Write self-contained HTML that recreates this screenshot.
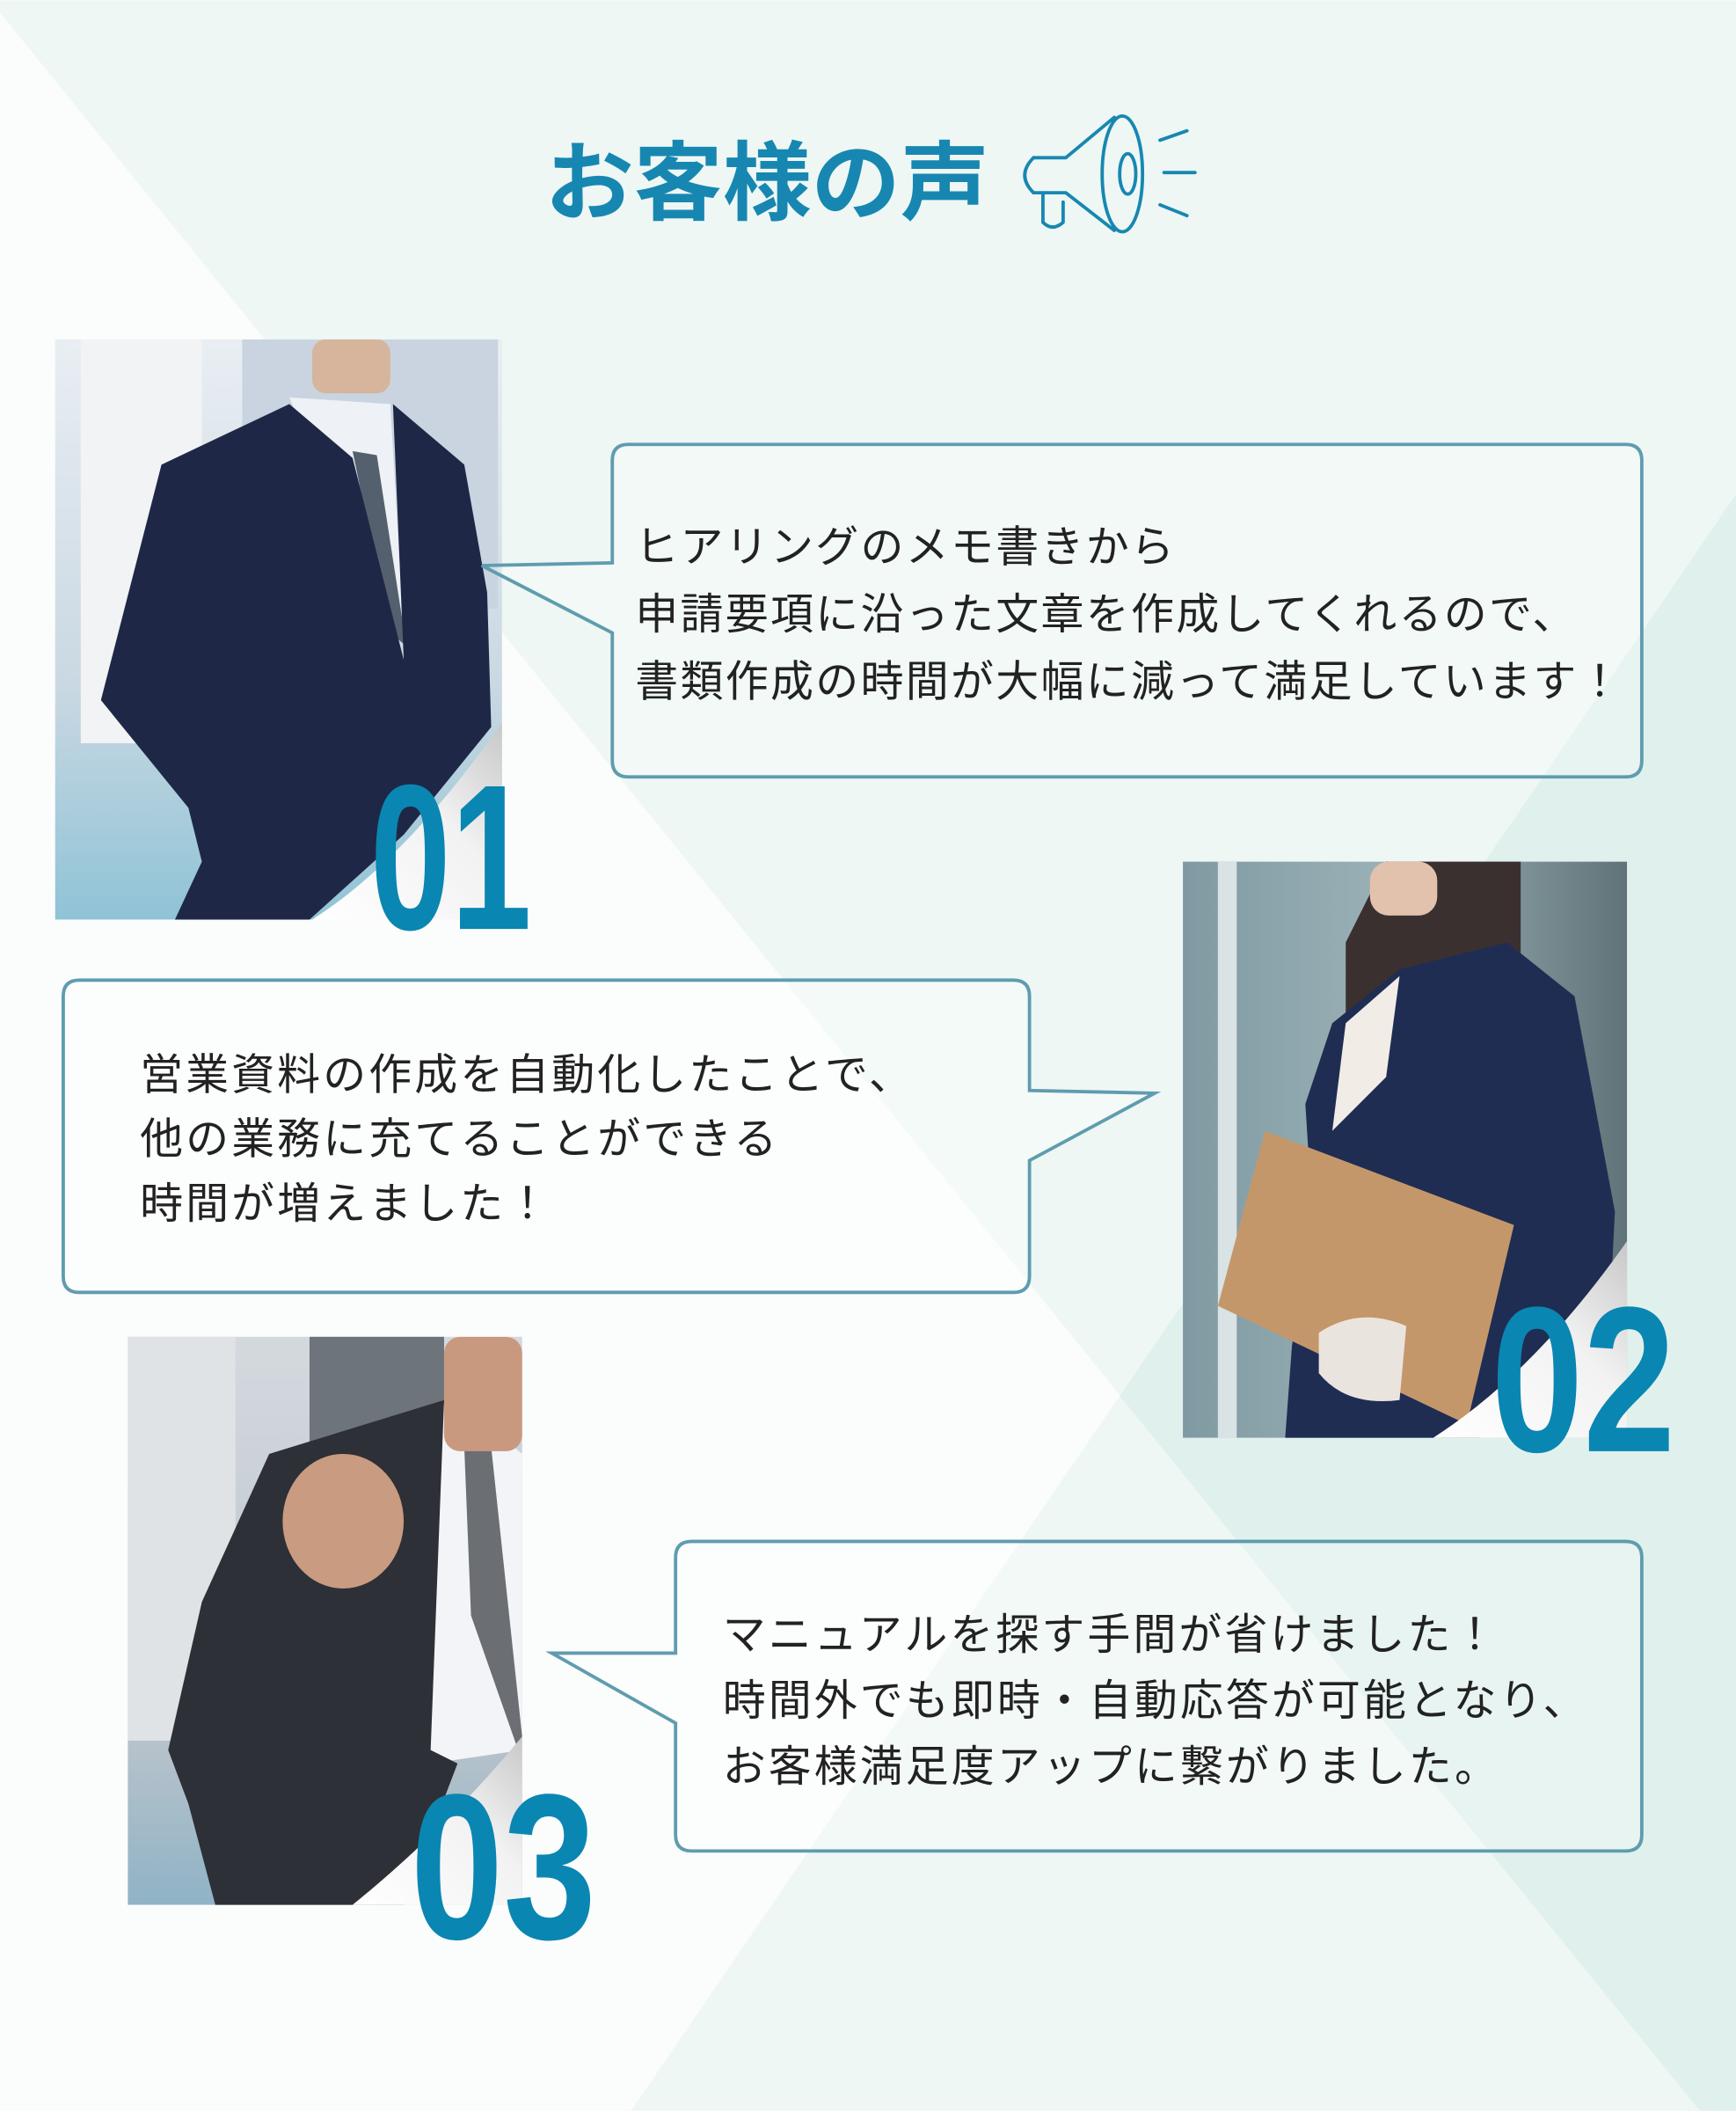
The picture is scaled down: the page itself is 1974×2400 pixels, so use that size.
<!DOCTYPE html>
<html><head><meta charset="utf-8"><style>
html,body{margin:0;padding:0;width:1974px;height:2400px;overflow:hidden;background:#fff}
svg{display:block}
text{font-family:"Liberation Sans","Noto Sans CJK JP",sans-serif}
</style></head><body>
<svg width="1974" height="2400" viewBox="0 0 1290 1568" xmlns="http://www.w3.org/2000/svg">
<defs>
<linearGradient id="p1" x1="0" y1="0" x2="0" y2="1"><stop offset="0" stop-color="#e9eef3"/><stop offset="0.6" stop-color="#c9d8e2"/><stop offset="1" stop-color="#8fc3d6"/></linearGradient>
<linearGradient id="p2" x1="0" y1="0" x2="1" y2="0"><stop offset="0" stop-color="#7f9aa2"/><stop offset="0.5" stop-color="#9db3b8"/><stop offset="1" stop-color="#5f7378"/></linearGradient>
<linearGradient id="p3" x1="0" y1="0" x2="0" y2="1"><stop offset="0" stop-color="#d4d9de"/><stop offset="0.7" stop-color="#b9c3cb"/><stop offset="1" stop-color="#8fb3c6"/></linearGradient>
<linearGradient id="curl" x1="0" y1="1" x2="1" y2="0"><stop offset="0" stop-color="#ffffff"/><stop offset="0.6" stop-color="#f2f2f2"/><stop offset="1" stop-color="#c8c8c8"/></linearGradient>
</defs>
<!-- background -->
<rect x="0" y="0" width="1290" height="1568" fill="#eef7f4"/>
<polygon points="0,9 1263,1568 0,1568" fill="#fbfcfc"/>
<polygon points="1290,367 832,1037 1263,1568 1290,1568" fill="#e0f1ed"/>
<polygon points="832,1037 469,1568 1263,1568" fill="#eef7f4"/>

<!-- title -->
<text x="405" y="158" font-size="64" font-weight="bold" fill="#1787b1" textLength="330" lengthAdjust="spacingAndGlyphs">お客様の声</text>
<!-- megaphone -->
<g fill="none" stroke="#1787b1" stroke-width="2.5" stroke-linejoin="round" stroke-linecap="round">
<path d="M768,117 L792,117 L828,87 M768,143 L792,143 L828,171"/>
<path d="M768,117 Q755,130 768,143"/>
<ellipse cx="834" cy="129" rx="15" ry="43"/>
<ellipse cx="838" cy="129" rx="6" ry="15"/>
<path d="M775,143 L775,165 Q782,172 790,165 L790,150"/>
<line x1="862" y1="104" x2="882" y2="97"/>
<line x1="865" y1="128" x2="888" y2="128"/>
<line x1="862" y1="152" x2="882" y2="160"/>
</g>

<!-- photo 1 -->
<rect x="41" y="252" width="332" height="431" fill="url(#p1)"/>
<rect x="60" y="252" width="90" height="300" fill="#f1f3f5"/>
<rect x="180" y="252" width="190" height="200" fill="#c9d4e0"/>
<polygon points="215,295 290,300 300,470 265,420" fill="#eef1f5"/>
<polygon points="262,335 280,338 302,480 290,470" fill="#55606e"/>
<polygon points="75,520 120,345 215,300 262,340 300,490 292,300 345,345 362,440 365,540 300,620 230,683 130,683 150,640 140,600" fill="#1e2846"/>
<rect x="232" y="252" width="58" height="40" rx="10" fill="#d6b59c"/>
<path d="M373,537 L373,683 L232,683 Q300,640 373,537 Z" fill="url(#curl)"/>
<text x="275" y="690" font-size="154" font-weight="bold" fill="#0a86b2" textLength="120" lengthAdjust="spacingAndGlyphs">01</text>

<!-- bubble 1 -->
<path d="M467,330 H1208 Q1220,330 1220,342 V565 Q1220,577 1208,577 H467 Q455,577 455,565 V470 L358,420 L455,418 V342 Q455,330 467,330 Z" fill="#ffffff" fill-opacity="0.25" stroke="#5f9caf" stroke-width="2.5"/>
<g font-size="32" fill="#222" letter-spacing="1.5">
<text x="472" y="417">ヒアリングのメモ書きから</text>
<text x="472" y="467">申請要項に沿った文章を作成してくれるので、</text>
<text x="472" y="517">書類作成の時間が大幅に減って満足しています！</text>
</g>

<!-- photo 2 -->
<rect x="879" y="640" width="330" height="428" fill="url(#p2)"/>
<rect x="905" y="640" width="14" height="428" fill="#d9e2e4"/>
<polygon points="1000,700 1030,640 1130,640 1130,720 1000,760" fill="#3b3030"/>
<rect x="1018" y="640" width="50" height="40" rx="14" fill="#e2c2ad"/>
<polygon points="990,760 1040,720 1120,700 1170,740 1200,900 1195,1000 1150,1020 1100,1068 955,1068 960,1000 975,900 970,820" fill="#1f2d52"/>
<polygon points="1000,760 1040,725 1030,800 990,840" fill="#f1ece6"/>
<polygon points="905,970 940,840 1125,910 1090,1058" fill="#c4976a"/>
<path d="M980,990 Q1010,970 1045,985 L1040,1040 Q1000,1045 980,1020 Z" fill="#eae4df"/>
<path d="M1209,922 L1209,1068 L1065,1068 Q1140,1020 1209,922 Z" fill="url(#curl)"/>
<text x="1108" y="1078" font-size="154" font-weight="bold" fill="#0a86b2" textLength="137" lengthAdjust="spacingAndGlyphs">02</text>

<!-- bubble 2 -->
<path d="M59,728 H753 Q765,728 765,740 V810 L858,812 L765,862 V948 Q765,960 753,960 H59 Q47,960 47,948 V740 Q47,728 59,728 Z" fill="#ffffff" fill-opacity="0.35" stroke="#5f9caf" stroke-width="2.5"/>
<g font-size="32" fill="#222" letter-spacing="2">
<text x="104" y="809">営業資料の作成を自動化したことで、</text>
<text x="104" y="857">他の業務に充てることができる</text>
<text x="104" y="905">時間が増えました！</text>
</g>

<!-- photo 3 -->
<rect x="95" y="993" width="293" height="422" fill="url(#p3)"/>
<rect x="95" y="993" width="80" height="300" fill="#dfe3e6"/>
<rect x="230" y="993" width="100" height="90" fill="#6d747c"/>
<polygon points="305,1050 340,1040 388,1080 388,1300 320,1310" fill="#f3f4f7"/>
<polygon points="345,1075 365,1075 388,1290 385,1300 350,1200" fill="#6b6e73"/>
<polygon points="125,1300 150,1190 200,1080 330,1040 320,1300 340,1310 300,1415 160,1415 140,1340" fill="#2d3036"/>
<rect x="330" y="993" width="58" height="85" rx="12" fill="#c9997f"/>
<ellipse cx="255" cy="1130" rx="45" ry="50" fill="#c99b80"/>
<path d="M388,1290 L388,1415 L262,1415 Q330,1360 388,1290 Z" fill="url(#curl)"/>
<text x="305" y="1440" font-size="154" font-weight="bold" fill="#0a86b2" textLength="138" lengthAdjust="spacingAndGlyphs">03</text>

<!-- bubble 3 -->
<path d="M514,1145 H1208 Q1220,1145 1220,1157 V1363 Q1220,1375 1208,1375 H514 Q502,1375 502,1363 V1280 L410,1228 L502,1228 V1157 Q502,1145 514,1145 Z" fill="#ffffff" fill-opacity="0.25" stroke="#5f9caf" stroke-width="2.5"/>
<g font-size="32" fill="#222" letter-spacing="2">
<text x="537" y="1225">マニュアルを探す手間が省けました！</text>
<text x="537" y="1274">時間外でも即時・自動応答が可能となり、</text>
<text x="537" y="1323">お客様満足度アップに繋がりました。</text>
</g>
</svg>
</body></html>
